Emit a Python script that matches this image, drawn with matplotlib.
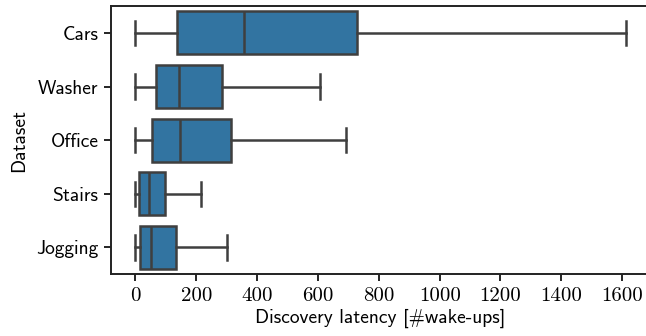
import matplotlib
matplotlib.use("Agg")
import matplotlib.pyplot as plt

# data, in units of wake-ups
datasets = ["Cars", "Washer", "Office", "Stairs", "Jogging"]
whisker_low = [0, 0, 0, 0, 0]
q1 = [137, 66, 55, 13, 14]
median = [358, 143, 145, 44, 50]
q3 = [728, 286, 313, 96, 134]
whisker_high = [1611, 606, 692, 216, 302]
xticks = [0, 200, 400, 600, 800, 1000, 1200, 1400, 1600]

box_color = "#3274a1"
line_color = "#3f3f3f"
sans = "cmss10"
serif = "cmr10"

stats = []
for name, lo, a, m, b, hi in zip(datasets, whisker_low, q1, median, q3, whisker_high):
    stats.append({"label": name, "whislo": lo, "q1": a, "med": m, "q3": b,
                  "whishi": hi, "fliers": []})

fig = plt.figure(figsize=(6.46, 3.36), dpi=100)
ax = fig.add_axes([0.1718, 0.1836, 0.8344, 0.7984])

lw = 1.8
line_props = dict(color=line_color, linewidth=lw)
ax.bxp(stats, positions=range(len(datasets)), vert=False, widths=0.8,
       capwidths=0.45, showfliers=False, patch_artist=True,
       boxprops=dict(facecolor=box_color, edgecolor=line_color, linewidth=lw),
       medianprops=line_props, whiskerprops=line_props, capprops=line_props)

ax.set_ylim(len(datasets) - 0.5, -0.5)
ax.set_xlim(-80.5, 1691.5)
ax.set_yticks(range(len(datasets)))
ax.set_yticklabels(datasets, fontfamily=sans, fontsize=14)
ax.set_xticks(xticks)
ax.set_xticklabels([str(t) for t in xticks], fontfamily=serif, fontsize=15)
ax.tick_params(axis="both", length=5, width=1.2, color="black", pad=4)

for side in ["left", "bottom", "top"]:
    ax.spines[side].set_linewidth(1.4)
    ax.spines[side].set_color("#222222")
ax.spines["right"].set_visible(False)

ax.set_xlabel("Discovery latency [#wake-ups]", fontfamily=sans, fontsize=14,
              labelpad=3)
ax.set_ylabel("Dataset", fontfamily=sans, fontsize=14, labelpad=6)

fig.savefig("out.png", dpi=100)
